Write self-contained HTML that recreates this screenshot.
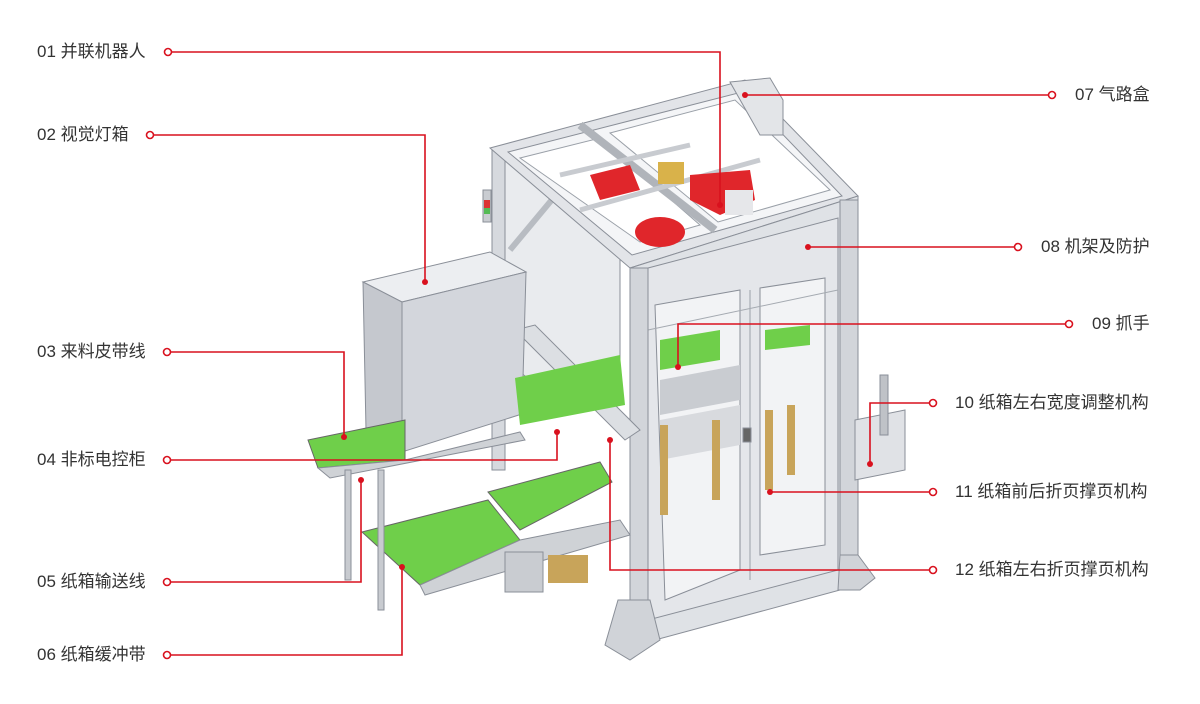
<!DOCTYPE html>
<html><head><meta charset="utf-8"><style>
html,body{margin:0;padding:0;background:#fff;}
body{width:1200px;height:704px;position:relative;overflow:hidden;font-family:"Liberation Sans","Noto Sans CJK SC",sans-serif;}
.l{position:absolute;font-size:17px;color:#333;line-height:20px;white-space:nowrap;}
svg{position:absolute;left:0;top:0;}
</style></head><body>
<svg width="1200" height="704" viewBox="0 0 1200 704">
<g stroke="#8a8f98" stroke-width="1">
<polygon points="492,150 505,150 505,470 492,470" fill="#d6d9de"/>
<polygon points="505,160 620,135 620,360 530,380 505,360" fill="#e9ebee"/>
<line x1="510" y1="250" x2="560" y2="190" stroke="#b8bcc2" stroke-width="6"/>
<polygon points="745,85 755,85 755,200 745,200" fill="#d0d3d8"/>
<!-- top frame -->
<polygon points="490,148 745,80 858,196 630,268" fill="#e2e4e8"/>
<polygon points="508,152 742,92 842,196 632,255" fill="#f4f5f7"/>
<polygon points="520,158 600,138 700,225 640,242" fill="#fff" stroke="#9aa0a8"/>
<polygon points="610,133 735,100 830,190 718,222" fill="#fff" stroke="#9aa0a8"/>
<line x1="580" y1="125" x2="715" y2="230" stroke="#b0b4ba" stroke-width="8"/>
<line x1="560" y1="175" x2="690" y2="145" stroke="#c8cbd0" stroke-width="5"/>
<line x1="580" y1="210" x2="760" y2="160" stroke="#c8cbd0" stroke-width="5"/>
<polygon points="590,175 630,165 640,190 600,200" fill="#e0262b" stroke="none"/>
<polygon points="690,175 750,170 755,200 720,215 690,200" fill="#e0262b" stroke="none"/>
<rect x="658" y="162" width="26" height="22" fill="#d9b24a" stroke="none"/>
<ellipse cx="660" cy="232" rx="25" ry="15" fill="#e0262b" stroke="none"/>
<rect x="725" y="190" width="28" height="25" fill="#e6e7ea" stroke="none"/>
<polygon points="730,82 770,78 783,100 783,135 760,135" fill="#e3e5e8"/>
<rect x="483" y="190" width="8" height="32" fill="#c9ccd1"/>
<rect x="484" y="200" width="6" height="8" fill="#d33" stroke="none"/>
<rect x="484" y="208" width="6" height="6" fill="#5b5" stroke="none"/>
<!-- front frame face -->
<polygon points="630,268 858,196 858,560 840,560 840,590 655,640 630,640" fill="#dfe2e6"/>
<polygon points="648,268 838,218 838,570 648,620" fill="#e4e6ea"/>
<polygon points="655,305 740,290 740,570 665,600" fill="#f2f3f5"/>
<polygon points="760,288 825,278 825,545 760,555" fill="#f2f3f5"/>
<line x1="750" y1="290" x2="750" y2="580" stroke="#9aa0a8"/>
<line x1="648" y1="330" x2="838" y2="290" stroke="#a5aab1"/>
<rect x="732" y="430" width="8" height="14" fill="#666"/>
<rect x="743" y="428" width="8" height="14" fill="#666"/>
<rect x="630" y="268" width="18" height="372" fill="#d2d5da"/>
<rect x="840" y="200" width="18" height="360" fill="#d2d5da"/>
<polygon points="618,600 650,600 660,640 630,660 605,645" fill="#d0d3d8"/>
<polygon points="840,555 858,555 875,578 860,590 838,590" fill="#d0d3d8"/>
<polygon points="515,330 535,325 640,430 625,440" fill="#dcdfe3"/>
<!-- inner machinery -->
<polygon points="660,380 740,365 740,400 660,415" fill="#c9ccd1" stroke="none"/>
<polygon points="660,340 720,330 720,360 660,370" fill="#6fcf4a" stroke="none"/>
<polygon points="765,330 810,325 810,345 765,350" fill="#6fcf4a" stroke="none"/>
<polygon points="660,420 740,405 740,445 660,460" fill="#d8dade" stroke="none"/>
<rect x="660" y="425" width="8" height="90" fill="#c8a45a" stroke="none"/>
<rect x="712" y="420" width="8" height="80" fill="#c8a45a" stroke="none"/>
<rect x="765" y="410" width="8" height="80" fill="#c8a45a" stroke="none"/>
<rect x="787" y="405" width="8" height="70" fill="#c8a45a" stroke="none"/>
<polygon points="855,420 905,410 905,470 855,480" fill="#e0e2e6"/>
<rect x="880" y="375" width="8" height="60" fill="#bfc2c7"/>
<!-- electric box -->
<polygon points="363,282 490,252 526,272 402,302" fill="#eceef1"/>
<polygon points="363,282 402,302 402,452 366,430" fill="#c5c8ce"/>
<polygon points="402,302 526,272 522,414 402,452" fill="#d3d6dc"/>
<!-- belts -->
<polygon points="515,378 620,355 625,405 520,425" fill="#6fcf4a" stroke="none"/>
<polygon points="308,440 405,420 405,460 318,468" fill="#6fcf4a" stroke="#666"/>
<polygon points="318,468 405,460 520,432 525,440 330,478" fill="#cfd2d6"/>
<polygon points="488,492 600,462 612,482 520,530" fill="#6fcf4a" stroke="#666"/>
<polygon points="362,532 488,500 520,540 420,585" fill="#6fcf4a" stroke="#666"/>
<polygon points="420,585 520,540 620,520 630,535 425,595" fill="#cfd2d6"/>
<rect x="345" y="470" width="6" height="110" fill="#c8cbd0"/>
<rect x="378" y="470" width="6" height="140" fill="#c8cbd0"/>
<rect x="505" y="552" width="38" height="40" fill="#c9ccd1"/>
<rect x="548" y="555" width="40" height="28" fill="#c8a45a" stroke="none"/>
</g>
<g fill="none" stroke="#d9111e" stroke-width="1.6">
<polyline points="168,52 720,52 720,205"/>
<polyline points="150,135 425,135 425,282"/>
<polyline points="167,352 344,352 344,437"/>
<polyline points="167,460 557,460 557,432"/>
<polyline points="167,582 361,582 361,480"/>
<polyline points="167,655 402,655 402,567"/>
<polyline points="1052,95 745,95"/>
<polyline points="1018,247 808,247"/>
<polyline points="1069,324 678,324 678,367"/>
<polyline points="933,403 870,403 870,464"/>
<polyline points="933,492 770,492"/>
<polyline points="933,570 610,570 610,440"/>
</g>
<g fill="#fff" stroke="#d9111e" stroke-width="1.6">
<circle cx="168" cy="52" r="3.5"/><circle cx="150" cy="135" r="3.5"/>
<circle cx="167" cy="352" r="3.5"/><circle cx="167" cy="460" r="3.5"/>
<circle cx="167" cy="582" r="3.5"/><circle cx="167" cy="655" r="3.5"/>
<circle cx="1052" cy="95" r="3.5"/><circle cx="1018" cy="247" r="3.5"/>
<circle cx="1069" cy="324" r="3.5"/><circle cx="933" cy="403" r="3.5"/>
<circle cx="933" cy="492" r="3.5"/><circle cx="933" cy="570" r="3.5"/>
</g>
<g fill="#d9111e">
<circle cx="720" cy="205" r="3"/><circle cx="425" cy="282" r="3"/>
<circle cx="344" cy="437" r="3"/><circle cx="557" cy="432" r="3"/>
<circle cx="361" cy="480" r="3"/><circle cx="402" cy="567" r="3"/>
<circle cx="745" cy="95" r="3"/><circle cx="808" cy="247" r="3"/>
<circle cx="678" cy="367" r="3"/><circle cx="870" cy="464" r="3"/>
<circle cx="770" cy="492" r="3"/><circle cx="610" cy="440" r="3"/>
</g>
</svg>
<div class="l" style="left:37px;top:42px">01 并联机器人</div>
<div class="l" style="left:37px;top:125px">02 视觉灯箱</div>
<div class="l" style="left:37px;top:342px">03 来料皮带线</div>
<div class="l" style="left:37px;top:450px">04 非标电控柜</div>
<div class="l" style="left:37px;top:572px">05 纸箱输送线</div>
<div class="l" style="left:37px;top:645px">06 纸箱缓冲带</div>
<div class="l" style="left:1075px;top:85px">07 气路盒</div>
<div class="l" style="left:1041px;top:237px">08 机架及防护</div>
<div class="l" style="left:1092px;top:314px">09 抓手</div>
<div class="l" style="left:955px;top:393px">10 纸箱左右宽度调整机构</div>
<div class="l" style="left:955px;top:482px">11 纸箱前后折页撑页机构</div>
<div class="l" style="left:955px;top:560px">12 纸箱左右折页撑页机构</div>
</body></html>
